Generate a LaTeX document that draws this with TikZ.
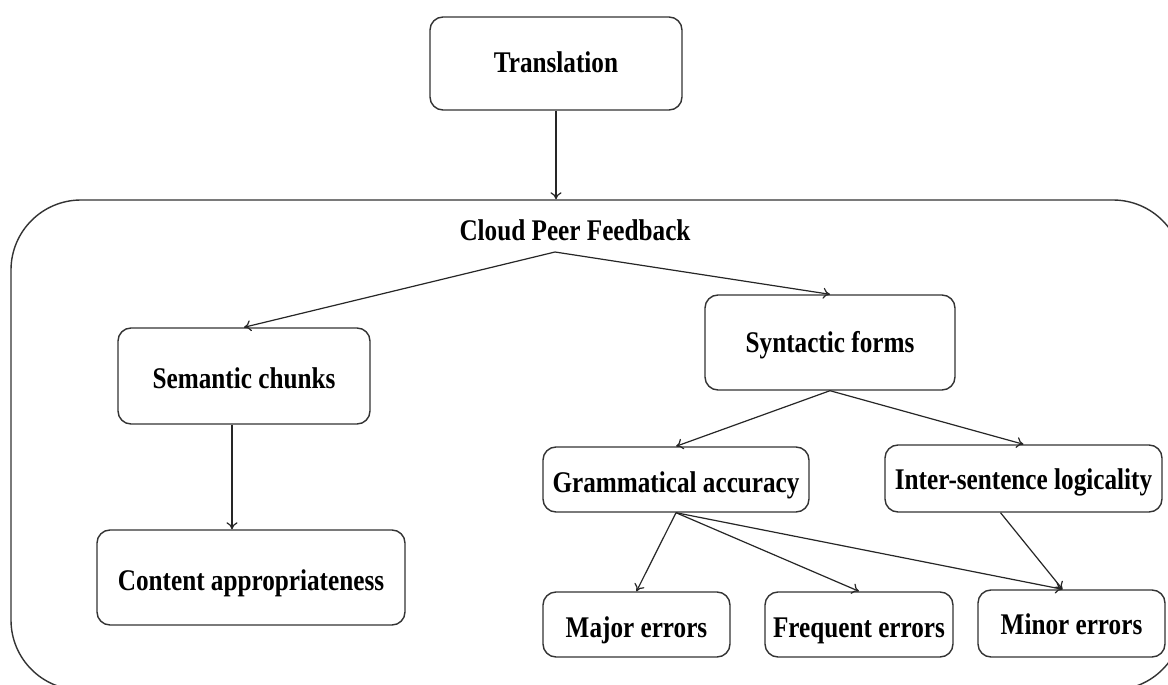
\documentclass[tikz,border=0pt]{standalone}
\usepackage{fontspec}
\setmainfont{Liberation Serif}[FakeStretch=0.84]
\usetikzlibrary{arrows.meta}
\begin{document}
\begin{tikzpicture}[x=1pt,y=-1pt,
  box/.style={draw=black!80, line width=1.4pt, rounded corners=13pt, inner sep=0pt, align=center,
    text height=25pt, text depth=0pt,
    font=\fontsize{30}{34}\selectfont\bfseries},
  arr/.style={draw=black!85, line width=1.2pt, -{To[length=7pt,width=11pt]}},
  lbl/.style={inner sep=0pt, font=\fontsize{30}{34}\selectfont\bfseries}]
\useasboundingbox (0,0) rectangle (1168,685);
\clip (0,0) rectangle (1168,685);
\fill[white] (0,0) rectangle (1168,685);
% outer container
\node[draw=black!80, line width=1.4pt, rounded corners=70pt, minimum width=1172pt, minimum height=490pt, inner sep=0pt] (cpf) at (597,445) {};
\node[lbl] (cpflabel) at (575,230) {Cloud Peer Feedback};
\coordinate (hub) at (555,252);
% nodes
\node[box, minimum width=252pt, minimum height=93pt, text height=18pt] (tr) at (556,63.5) {Translation};
\node[box, minimum width=252pt, minimum height=96pt] (sem) at (244,376) {Semantic chunks};
\node[box, minimum width=250pt, minimum height=95pt, text height=20pt] (syn) at (830,342.5) {Syntactic forms};
\node[box, minimum width=266pt, minimum height=65pt] (gram) at (676,479.5) {Grammatical accuracy};
\node[box, minimum width=277pt, minimum height=67pt, text height=22pt] (inter) at (1023.5,478.5) {Inter-sentence logicality};
\node[box, minimum width=308pt, minimum height=95pt] (cont) at (251,577.5) {Content appropriateness};
\node[box, minimum width=187pt, minimum height=65pt] (major) at (636.5,624.5) {Major errors};
\node[box, minimum width=188pt, minimum height=65pt] (freq) at (859,624.5) {Frequent errors};
\node[box, minimum width=187pt, minimum height=67pt, text height=22pt] (minor) at (1071.5,623.5) {Minor errors};
% connectors
\draw[arr] (tr.south) -- (tr.south |- cpf.north);
\draw[arr] (hub) -- (sem.north);
\draw[arr] (hub) -- (syn.north);
\draw[arr] ([xshift=-12pt]sem.south) -- ([xshift=-12pt]sem.south |- cont.north);
\draw[arr] (syn.south) -- (gram.north);
\draw[arr] (syn.south) -- (inter.north);
\draw[arr] (gram.south) -- (major.north);
\draw[arr] (gram.south) -- (freq.north);
\draw[arr] (gram.south) -- ([xshift=-9pt]minor.north);
\draw[arr] ([xshift=-23pt]inter.south) -- ([xshift=-9pt]minor.north);
\end{tikzpicture}
\end{document}
